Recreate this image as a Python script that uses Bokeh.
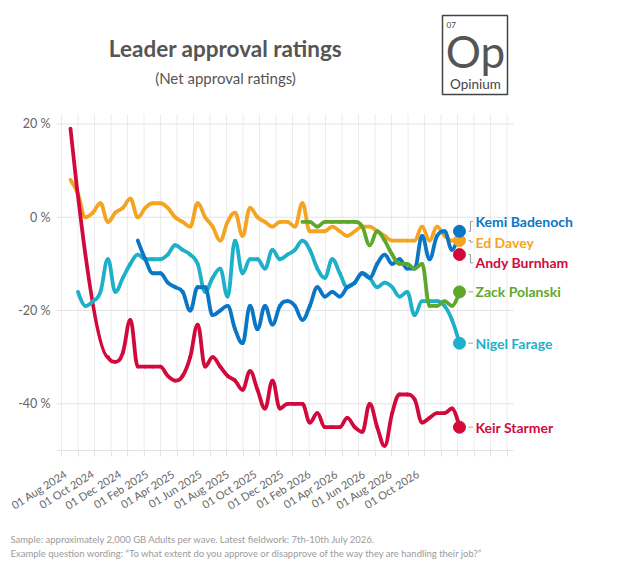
import pandas as pd
from bokeh.plotting import figure
from bokeh.models import Range1d, FixedTicker, Title
from bokeh.core.properties import value
from bokeh.embed import file_html
from bokeh.resources import INLINE

# Fortnightly Opinium waves, July 2024 - July 2026
wave_dates = pd.date_range("2024-07-12", "2026-07-10", freq="14D")
N = None

# Net approval (%) per wave; None = leader not asked in that wave
starmer = [19, N, N, N, N, -30, -31, -29, -22, -32, -32, -32, -32, -34, -35, -34, -30, -23,
           -32, -30, -32, -34, -35, -37, -33, -37, -41, -35, -41, -40, -40, -40, -44, -42, -45,
           -45, -45, -43, -45, -46, -40, -45, -49, -42, -38, -38, -39, -44, -43, -42, -42, -41, -45]
davey = [8, 5, 0, 1, 3, -1, 1, 2, 4, 0, 2, 3, 3, 2, 0, -1, -2, 3, 0, -2, -5, -1, 1, -4, 2, 0,
         -1, -2, -1, -1, -2, 3, -3, -3, -3, -2, -3, -4, -3, -2, -2, -3, -4, -5, -5, -5, -5, -2,
         -5, -2, -4, -5, -5]
farage = [N, -16, -19, -18, -16, -9, -16, -13, -10, -8, -9, -9, -9, -8, -6, -7, -8, -10, -16,
          -13, -11, -17, -5, -12, -9, -9, -11, -7, -9, -8, -7, -5, -7, -11, -13, -9, -12, -15,
          -14, -12, -13, -15, -14, -15, -17, -16, -21, -18, -18, -18, -19, -22, -27]
badenoch = [N, N, N, N, N, N, N, N, N, -5, -9, -12, -12, -14, -15, -16, -20, -15, -15, -21,
            -20, -19, -24, -27, -19, -24, -19, -23, -19, -18, -19, -22, -19, -15, -17, -16, -17,
            -15, -14, -12, -13, -10, -8, -10, -9, -11, -11, -4, -9, -4, -3, -7, -3]
polanski = [N] * 31 + [-1, -1, -2, -1, -1, -1, -1, -1, -2, -6, -3, -5, -8, -10, -10, -11, -10,
                       -19, -19, -18, -19, -16]
burnham = [N] * 52 + [-8]

x_labels = ["01 Aug 2024", "01 Oct 2024", "01 Dec 2024", "01 Feb 2025", "01 Apr 2025",
            "01 Jun 2025", "01 Aug 2025", "01 Oct 2025", "01 Dec 2025", "01 Feb 2026",
            "01 Apr 2026", "01 Jun 2026", "01 Aug 2026", "01 Oct 2026"]
y_ticks = [-40, -20, 0, 20]

RED, ORANGE, CYAN, BLUE, GREEN = "#d20a3c", "#f5a422", "#1fb0c9", "#0a76c6", "#5ea72b"
series = [
    ("Ed Davey", davey, ORANGE),
    ("Keir Starmer", starmer, RED),
    ("Nigel Farage", farage, CYAN),
    ("Kemi Badenoch", badenoch, BLUE),
    ("Zack Polanski", polanski, GREEN),
    ("Andy Burnham", burnham, RED),
]

days = [int(d) for d in (wave_dates - wave_dates[0]).days]

FONT = "Lato"
W, H = 634, 573
LEFT, BOTTOM = 56, 123
PLOT_W = 457                      # width of the gridded area
PPU = 4.665                       # screen pixels per percentage point
px = 1.8716                       # days per screen pixel
x0, y0 = -26.2, -50
y_grid_top = 22.1
x_plot_end = x0 + PLOT_W * px
x1 = x0 + (W - LEFT) * px
y1 = y0 + (H - BOTTOM) / PPU      # frame reaches up to the top edge for the heading


def at(cx, cy):
    """Canvas pixel position -> data coordinates (used for the heading block)."""
    return x0 + (cx - LEFT) * px, y0 + ((H - BOTTOM) - cy) / PPU


p = figure(width=W, height=H, x_range=Range1d(x0, x1), y_range=Range1d(y0, y1),
           output_backend="svg", toolbar_location=None,
           min_border_left=LEFT, min_border_right=0, min_border_top=0,
           min_border_bottom=BOTTOM)
p.outline_line_color = None
p.grid.visible = False

# grid: vertical lines roughly monthly, horizontal at the labelled values
grid_days = [round(-16.8 + 30.88 * k, 2) for k in range(28)]
label_ticks = [round(-9.4 + 50.72 * k) for k in range(len(x_labels))]
p.segment(x0=grid_days, x1=grid_days, y0=[y0] * len(grid_days), y1=[y_grid_top] * len(grid_days),
          line_color="#ececec", line_width=1, level="underlay")
p.segment(x0=[x0] * len(y_ticks), x1=[x_plot_end] * len(y_ticks), y0=y_ticks, y1=y_ticks,
          line_color="#e3e3e3", line_width=1, level="underlay")

xa = p.xaxis[0]
xa.ticker = FixedTicker(ticks=label_ticks, minor_ticks=grid_days)
xa.bounds = (x0, x_plot_end)
xa.major_label_overrides = {t: s for t, s in zip(label_ticks, x_labels)}
xa.major_label_orientation = 0.56
xa.major_tick_line_color = None
xa.major_tick_out = 0
xa.minor_tick_line_color = "#e3e3e3"
xa.minor_tick_in = 0
xa.minor_tick_out = 6
xa.axis_line_color = "#e3e3e3"
xa.major_label_text_font = FONT
xa.major_label_text_font_size = "11px"
xa.major_label_text_color = "#666666"
xa.major_label_standoff = 16

ya = p.yaxis[0]
ya.ticker = FixedTicker(ticks=y_ticks)
ya.major_label_overrides = {t: f"{t} %" for t in y_ticks}
ya.axis_line_color = None
ya.major_tick_line_color = None
ya.minor_tick_line_color = None
ya.major_tick_out = 0
ya.major_label_standoff = 6
ya.major_label_text_font = FONT
ya.major_label_text_font_size = "12.5px"
ya.major_label_text_color = "#666666"


def spline(xs, ys, s=1.5):
    """Bezier control points in the style of a smoothed spline series."""
    n = len(xs)
    lc, rc = [], []
    for i in range(n):
        x, y = xs[i], ys[i]
        lx, ly, rx, ry = x, y, x, y
        if 0 < i < n - 1:
            pxv, pyv, nx, ny = xs[i - 1], ys[i - 1], xs[i + 1], ys[i + 1]
            d = s + 1
            lx, ly = (s * x + pxv) / d, (s * y + pyv) / d
            rx, ry = (s * x + nx) / d, (s * y + ny) / d
            if rx != lx:
                corr = (ry - ly) * (rx - x) / (rx - lx) + y - ry
                ly += corr
                ry += corr
            if ly > pyv and ly > y:
                ly = max(pyv, y); ry = 2 * y - ly
            elif ly < pyv and ly < y:
                ly = min(pyv, y); ry = 2 * y - ly
            if ry > ny and ry > y:
                ry = max(ny, y); ly = 2 * y - ry
            elif ry < ny and ry < y:
                ry = min(ny, y); ly = 2 * y - ry
        lc.append((lx, ly))
        rc.append((rx, ry))
    return dict(x0=xs[:-1], y0=ys[:-1], x1=xs[1:], y1=ys[1:],
                cx0=[c[0] for c in rc[:-1]], cy0=[c[1] for c in rc[:-1]],
                cx1=[c[0] for c in lc[1:]], cy1=[c[1] for c in lc[1:]])


ends = []
for name, vals, color in series:
    xs = [d for d, v in zip(days, vals) if v is not None]
    ys = [v for v in vals if v is not None]
    if len(xs) > 1:
        p.bezier(color=color, line_width=3.8, line_cap="round", **spline(xs, ys))
    ends.append((name, xs[-1], ys[-1], color))

for name, xe, ye, color in ends:
    p.scatter([xe], [ye], size=12, color=color)


def spread(vals, gap):
    order = sorted(range(len(vals)), key=lambda i: -vals[i])

    def pos(c):
        m = sum(vals[j] for j in c) / len(c)
        top = m + gap * (len(c) - 1) / 2
        return [top - gap * k for k in range(len(c))]

    clusters = []
    for i in order:
        clusters.append([i])
        while len(clusters) > 1 and pos(clusters[-2])[-1] - pos(clusters[-1])[0] < gap:
            last = clusters.pop()
            clusters[-1] = clusters[-1] + last
    out = {}
    for c in clusters:
        for j, pp in zip(c, pos(c)):
            out[j] = pp
    return [out[i] for i in range(len(vals))]


label_y = spread([e[2] for e in ends], 4.45)
for (name, xe, ye, color), ly in zip(ends, label_y):
    p.line([xe + 9 * px, xe + 11 * px, xe + 11 * px, xe + 13.5 * px], [ye, ye, ly, ly],
           line_color="#9a9a9a", line_width=1)
    p.text([xe], [ly], text=[name], x_offset=16, text_baseline="middle",
           text_color=color, text_font=value(FONT), text_font_style="bold",
           text_font_size="14px")


def txt(s, cx, cy, size, color, bold=False, align="left"):
    x, y = at(cx, cy)
    p.text([x], [y], text=[s], text_align=align, text_baseline="middle",
           text_font=value(FONT), text_font_style="bold" if bold else "normal",
           text_font_size=size, text_color=color)


# heading and the Opinium badge
txt("Leader approval ratings", 225, 48, "22.5px", "#555555", bold=True, align="center")
txt("(Net approval ratings)", 225, 77, "15px", "#555555", align="center")
bl, bt = at(442, 15)
br, bb = at(507, 94)
p.quad(left=[bl], right=[br], top=[bt], bottom=[bb], fill_color=None,
       line_color="#444444", line_width=1.5)
txt("07", 446, 24, "8px", "#444444")
txt("Op", 475, 50, "44px", "#555555", align="center")
txt("Opinium", 475, 83, "13.5px", "#444444", align="center")

# footnote
note = ("Sample: approximately 2,000 GB Adults per wave. Latest fieldwork: 7th-10th July 2026.\n"
        "Example question wording: \u201cTo what extent do you approve or disapprove of the way "
        "they are handling their job?\u201d")
p.add_layout(Title(text=note, align="left", offset=10 - LEFT, standoff=22,
                   text_font=FONT, text_font_size="9.5px", text_font_style="normal",
                   text_line_height=1.35, text_color="#9b9b9b"), "below")

open("out.html", "w").write(file_html(p, INLINE))
